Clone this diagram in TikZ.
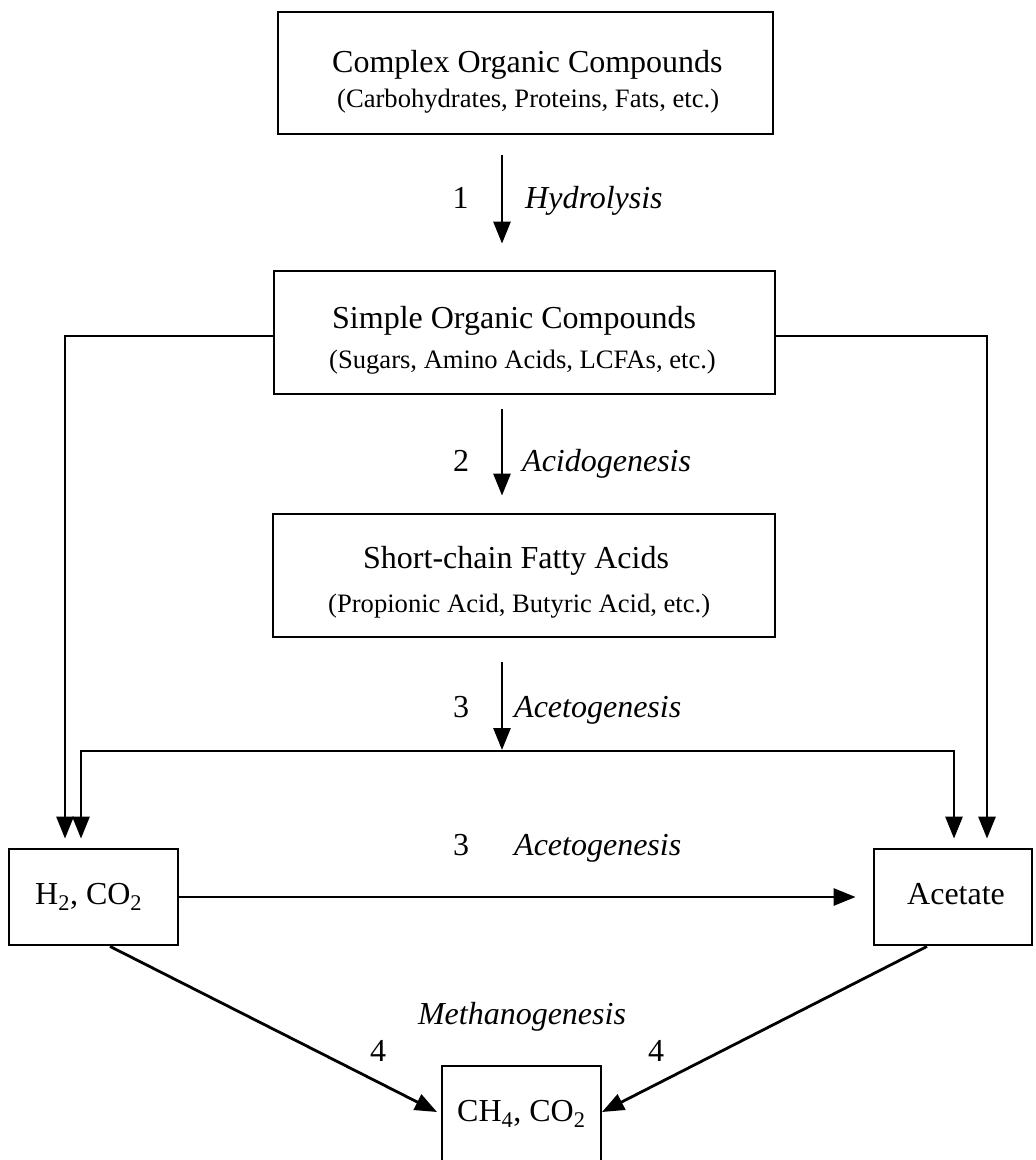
\documentclass[tikz,border=0pt]{standalone}
\usepackage{fontspec}
\setmainfont{Liberation Serif}
\usetikzlibrary{arrows.meta}
\begin{document}
\begin{tikzpicture}[x=1pt,y=-1pt,
  box/.style={draw,line width=2.8pt,inner sep=0pt,rectangle},
  arr/.style={line width=2.8pt,-{Triangle[length=22pt,width=17pt]}},
  big/.style={font=\fontsize{32}{38}\selectfont,inner sep=0pt},
  sub/.style={font=\fontsize{26.6}{31}\selectfont,inner sep=0pt},
  lab/.style={font=\fontsize{32}{38}\selectfont\itshape,inner sep=0pt}]
\useasboundingbox (0,0) rectangle (1036,1160);
% boxes
\node[box,minimum width=495pt,minimum height=122pt] (b1) at (525.5,73) {};
\node[box,minimum width=501pt,minimum height=123pt] (b2) at (524.5,332.5) {};
\node[box,minimum width=502pt,minimum height=123pt] (b3) at (524,575.5) {};
\node[box,minimum width=169pt,minimum height=96pt] (h2) at (93.5,897) {};
\node[box,minimum width=158pt,minimum height=96pt] (ac) at (953,897) {};
\node[box,minimum width=159pt,minimum height=114pt] (ch4) at (521.5,1123) {};
% box texts
\node[big,anchor=base west] (b1t) at (332,72) {Complex Organic Compounds};
\node[sub,anchor=base west] (b1s) at (337,107) {(Carbohydrates, Proteins, Fats, etc.)};
\node[big,anchor=base west] (b2t) at (332,328) {Simple Organic Compounds};
\node[sub,anchor=base west] (b2s) at (329,368) {(Sugars, Amino Acids, LCFAs, etc.)};
\node[big,anchor=base west] (b3t) at (363,568) {Short-chain Fatty Acids};
\node[sub,anchor=base west] (b3s) at (328,612) {(Propionic Acid, Butyric Acid, etc.)};
\node[big,anchor=base west] (h2t) at (35,904) {H\textsubscript{2}, CO\textsubscript{2}};
\node[big,anchor=base west] (act) at (907,904) {Acetate};
\node[big,anchor=base west] (ch4t) at (457,1121) {CH\textsubscript{4}, CO\textsubscript{2}};
% labels
\node[big,anchor=base] (n1) at (460.5,208) {1};
\node[lab,anchor=base west] (l1) at (525,208) {Hydrolysis};
\node[big,anchor=base] (n2) at (461,471) {2};
\node[lab,anchor=base west] (l2) at (522,471) {Acidogenesis};
\node[big,anchor=base] (n3) at (461,717) {3};
\node[lab,anchor=base west] (l3) at (514,717) {Acetogenesis};
\node[big,anchor=base] (n3b) at (461,855) {3};
\node[lab,anchor=base west] (l3b) at (514,855) {Acetogenesis};
\node[lab,anchor=base] (l4) at (522,1024) {Methanogenesis};
\node[big,anchor=base] (n4a) at (378,1061) {4};
\node[big,anchor=base] (n4b) at (656,1061) {4};
% coordinates
\coordinate (ax) at (502,0);
\coordinate (jl) at (81,751);
\coordinate (jr) at (954,751);
\coordinate (lx) at (65,336);
\coordinate (rx) at (987,336);
\coordinate (dl) at (437,1112);
\coordinate (dr) at (602,1112);
% connectors
\draw[arr,shorten <=20pt,shorten >=26pt] (b1.south -| ax) -- (b2.north -| ax);
\draw[arr,shorten <=14pt,shorten >=17pt] (b2.south -| ax) -- (b3.north -| ax);
\draw[arr,shorten <=24pt,shorten >=1pt] (b3.south -| ax) -- (ax |- jl);
\draw[arr,shorten >=9pt] (ax |- jl) -- (jl) -- (h2.north -| jl);
\draw[arr,shorten >=9pt] (ax |- jr) -- (jr) -- (ac.north -| jr);
\draw[arr,shorten >=9pt] (b2.west |- lx) -- (lx) -- (h2.north -| lx);
\draw[arr,shorten >=9pt] (b2.east |- rx) -- (rx) -- (ac.north -| rx);
\draw[arr,shorten >=17pt] (h2.east) -- (ac.west);
\draw[arr] ([xshift=16.5pt]h2.south) -- (dl);
\draw[arr] ([xshift=-26pt]ac.south) -- (dr);
\end{tikzpicture}
\end{document}
